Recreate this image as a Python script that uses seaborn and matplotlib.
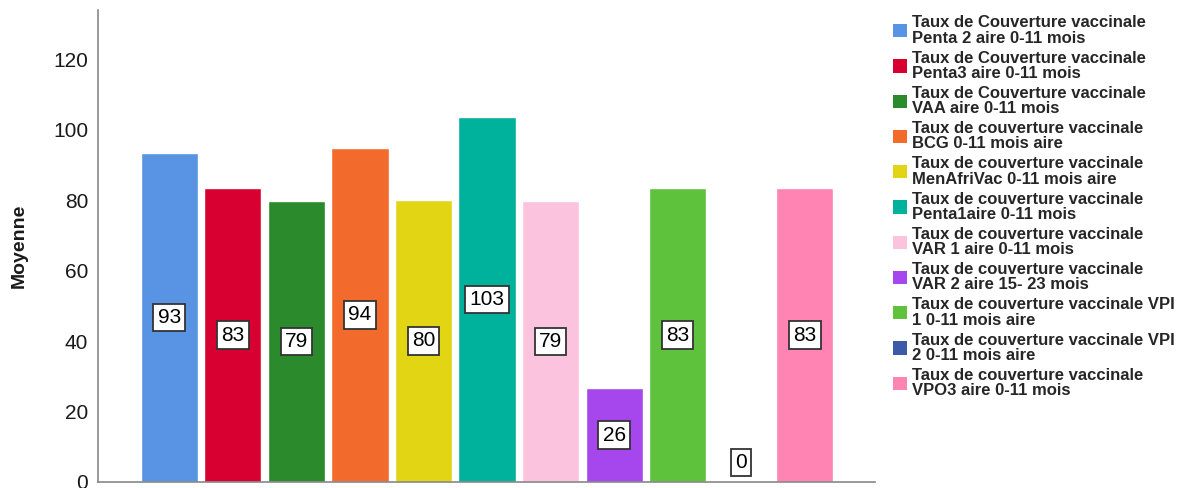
import matplotlib
matplotlib.use("Agg")
import matplotlib.pyplot as plt
import matplotlib.patches as mpatches
import seaborn as sns
import pandas as pd

categories = [
    "Taux de Couverture vaccinale\nPenta 2 aire 0-11 mois",
    "Taux de Couverture vaccinale\nPenta3 aire 0-11 mois",
    "Taux de Couverture vaccinale\nVAA aire 0-11 mois",
    "Taux de couverture vaccinale\nBCG 0-11 mois aire",
    "Taux de couverture vaccinale\nMenAfriVac 0-11 mois aire",
    "Taux de couverture vaccinale\nPenta1aire 0-11 mois",
    "Taux de couverture vaccinale\nVAR 1 aire 0-11 mois",
    "Taux de couverture vaccinale\nVAR 2 aire 15- 23 mois",
    "Taux de couverture vaccinale VPI\n1 0-11 mois aire",
    "Taux de couverture vaccinale VPI\n2 0-11 mois aire",
    "Taux de couverture vaccinale\nVPO3 aire 0-11 mois",
]
values = [93.4, 83.4, 79.8, 94.9, 80.1, 103.6, 79.8, 26.6, 83.4, 0.4, 83.4]
colors = ["#5894E3", "#D70030", "#2A8A2C", "#F26A2C", "#E2D514", "#00B29B",
          "#FCC3DF", "#A547EC", "#5EC23C", "#3C5AA6", "#FF83B3"]
yticks = [0, 20, 40, 60, 80, 100, 120]

sns.set_theme(style="white")
plt.rcParams['font.family'] = ['Liberation Sans', 'DejaVu Sans']

df = pd.DataFrame({"cat": categories, "val": values})
fig = plt.figure(figsize=(11.84, 4.88), dpi=100)
ax = fig.add_axes([0.0828, 0.0123, 0.656, 0.9672])

sns.barplot(data=df, x="cat", y="val", hue="cat", palette=colors, dodge=False,
            width=0.9, legend=False, ax=ax, saturation=1, errorbar=None)

for i, v in enumerate(values):
    ax.text(i, max(v / 2, 5.6), f"{int(v)}", ha="center", va="center",
            fontsize=15, color="black",
            bbox=dict(boxstyle="square,pad=0.2", fc="white", ec="#333333", lw=1.3))

ax.set_xlim(-1.12, 11.1)
ax.set_ylim(0, 134)
ax.set_yticks(yticks)
ax.set_yticklabels([str(t) for t in yticks], fontsize=15, color="#1a1a1a")
ax.set_xticks([])
ax.set_xlabel("")
ax.set_ylabel("Moyenne", fontsize=14, fontweight="bold", color="#1a1a1a", labelpad=18)
ax.tick_params(axis="y", length=0, pad=7)
for s in ["top", "right"]:
    ax.spines[s].set_visible(False)
for s in ["left", "bottom"]:
    ax.spines[s].set_color("#888888")
    ax.spines[s].set_linewidth(1.2)

handles = [mpatches.Patch(facecolor=c, edgecolor="none", label=l) for c, l in zip(colors, categories)]
leg = fig.legend(handles=handles, loc="upper left", bbox_to_anchor=(0.7485, 0.982),
                 frameon=False, prop=dict(family="Liberation Sans", weight="bold", size=12.0),
                 handlelength=0.85, handleheight=0.85, handletextpad=0.3, labelspacing=0.3,
                 borderaxespad=0)
for t in leg.get_texts():
    t.set_linespacing(1.02)

fig.savefig("out.png", dpi=100)
